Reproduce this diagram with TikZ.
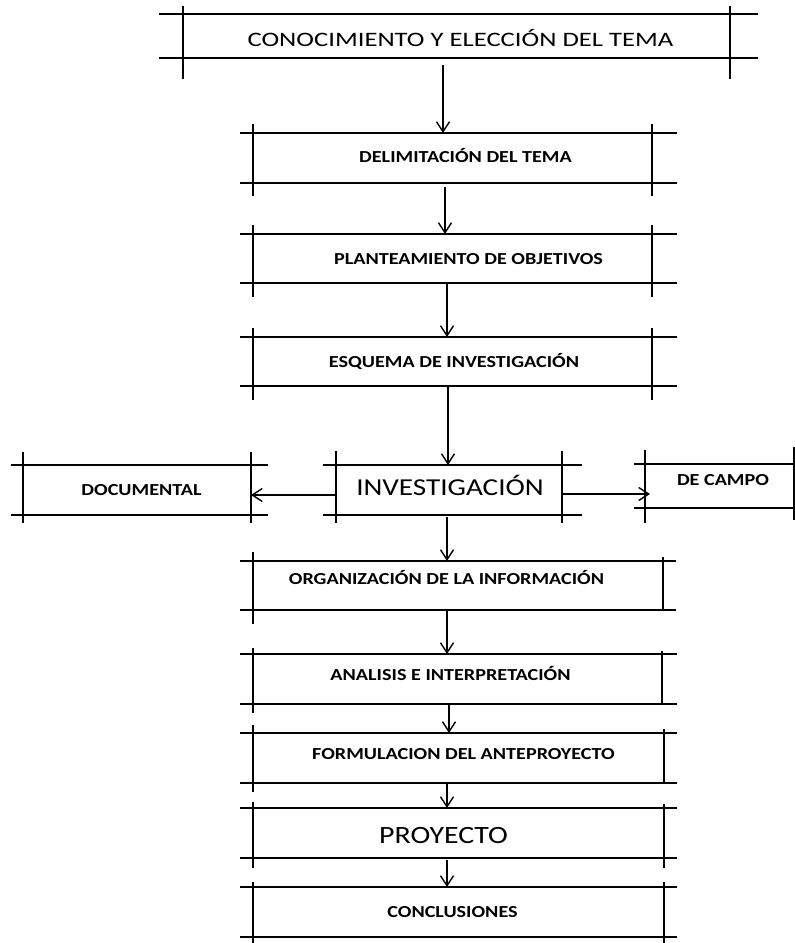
\documentclass[tikz,border=0pt]{standalone}
\usepackage{fontspec}
\setmainfont{Carlito}
\newfontfamily\fsmall{Carlito}[FakeStretch=1.2]
\newfontfamily\fbig{Carlito}[FakeStretch=1.3]
\usetikzlibrary{arrows.meta}
\tikzset{
  boxframe/.style={rectangle, draw=none, inner sep=0pt, outer sep=0pt},
  frameline/.style={line width=1.5pt, black},
  arr/.style={line width=1.4pt, black, -{Straight Barb[length=10pt,width=13pt]}},
  smalltxt/.style={anchor=base, inner sep=0pt, font={\fsmall\bfseries\fontsize{16.8}{18}\selectfont}},
  toptxt/.style={anchor=base, inner sep=0pt, font={\fbig\fontsize{20.5}{22}\selectfont}},
  invtxt/.style={anchor=base, inner sep=0pt, font={\fsmall\fontsize{24.3}{26}\selectfont}},
  proytxt/.style={anchor=base, inner sep=0pt, font={\fsmall\fontsize{24.9}{27}\selectfont}}
}
\newcommand\hashframe[7]{%
  \draw[frameline] ([xshift=-#2]#1.north west) -- ([xshift=#3]#1.north east);
  \draw[frameline] ([xshift=-#2]#1.south west) -- ([xshift=#3]#1.south east);
  \draw[frameline] ([yshift=#4]#1.north west) -- ([yshift=-#5]#1.south west);
  \draw[frameline] ([yshift=#6]#1.north east) -- ([yshift=-#7]#1.south east);
}
\begin{document}
\begin{tikzpicture}[x=1pt,y=-1pt]
\useasboundingbox (0,0) rectangle (795,943);

% box nodes
\node[boxframe, minimum width=547pt, minimum height=44pt] (top) at (456.5,36) {};
\node[boxframe, minimum width=399pt, minimum height=50pt] (delim) at (452.5,158) {};
\node[boxframe, minimum width=399pt, minimum height=49pt] (plant) at (452.5,258.5) {};
\node[boxframe, minimum width=399pt, minimum height=49pt] (esq) at (452.5,361.5) {};
\node[boxframe, minimum width=226pt, minimum height=50pt] (inv) at (449,490) {};
\node[boxframe, minimum width=228pt, minimum height=50pt] (doc) at (137,490) {};
\node[boxframe, minimum width=149pt, minimum height=44pt] (decampo) at (719.5,486) {};
\node[boxframe, minimum width=410pt, minimum height=49pt] (org) at (458,585.5) {};
\node[boxframe, minimum width=409pt, minimum height=50pt] (anal) at (457.5,679) {};
\node[boxframe, minimum width=411pt, minimum height=50pt] (form) at (458.5,758) {};
\node[boxframe, minimum width=411pt, minimum height=50pt] (proy) at (458.5,833) {};
\node[boxframe, minimum width=411pt, minimum height=50pt] (conc) at (458.5,912) {};

% frames
\hashframe{top}{24pt}{28pt}{8pt}{21pt}{8pt}{21pt}
\hashframe{delim}{13pt}{25pt}{9pt}{13pt}{9pt}{13pt}
\hashframe{plant}{13pt}{25pt}{9pt}{14pt}{9pt}{14pt}
\hashframe{esq}{13pt}{25pt}{9pt}{14pt}{9pt}{14pt}
\hashframe{inv}{13pt}{20pt}{14pt}{8pt}{14pt}{8pt}
\hashframe{doc}{12pt}{17pt}{13pt}{8pt}{13pt}{8pt}
\hashframe{decampo}{11pt}{5pt}{14pt}{15pt}{17pt}{12pt}
\hashframe{org}{13pt}{13pt}{9pt}{14pt}{4pt}{0pt}
\hashframe{anal}{13pt}{15pt}{6pt}{9pt}{3pt}{0pt}
\hashframe{form}{13pt}{13pt}{8pt}{9pt}{4pt}{0pt}
\hashframe{proy}{13pt}{13pt}{6pt}{10pt}{4pt}{10pt}
\hashframe{conc}{13pt}{13pt}{5pt}{10pt}{5pt}{10pt}

% texts
\node[toptxt] (ttop) at (460.5,46.5) {CONOCIMIENTO Y ELECCIÓN DEL TEMA};
\node[smalltxt] (tdelim) at (465.5,162) {DELIMITACIÓN DEL TEMA};
\node[smalltxt] (tplant) at (468.5,264) {PLANTEAMIENTO DE OBJETIVOS};
\node[smalltxt] (tesq) at (454,367) {ESQUEMA DE INVESTIGACIÓN};
\node[invtxt] (tinv) at (450,495) {INVESTIGACIÓN};
\node[smalltxt] (tdoc) at (141.5,495) {DOCUMENTAL};
\node[smalltxt] (tdecampo) at (723,485) {DE CAMPO};
\node[smalltxt] (torg) at (446.5,584) {ORGANIZACIÓN DE LA INFORMACIÓN};
\node[smalltxt] (tanal) at (450.5,680) {ANALISIS E INTERPRETACIÓN};
\node[smalltxt] (tform) at (463.5,759) {FORMULACION DEL ANTEPROYECTO};
\node[proytxt] (tproy) at (443.5,843) {PROYECTO};
\node[smalltxt] (tconc) at (452.5,917) {CONCLUSIONES};

% connectors
\draw[arr] ([xshift=-13.5pt,yshift=-7pt]top.south) -- ([xshift=-9.5pt]delim.north);
\draw[arr] ([xshift=-7.5pt,yshift=-4pt]delim.south) -- ([xshift=-7.5pt]plant.north);
\draw[arr] ([xshift=-5.5pt]plant.south) -- ([xshift=-5.5pt]esq.north);
\draw[arr] ([xshift=-4.5pt]esq.south) -- ([xshift=-1pt]inv.north);
\draw[arr] ([yshift=-5pt]inv.west) -- ([yshift=-5pt]doc.east);
\draw[arr] ([yshift=-4pt]inv.east) -- ([xshift=5pt,yshift=-8pt]decampo.west);
\draw[arr] ([xshift=-2pt,yshift=-2pt]inv.south) -- ([xshift=-11pt]org.north);
\draw[arr] ([xshift=-11pt]org.south) -- ([xshift=-10.5pt]anal.north);
\draw[arr] ([xshift=-8.5pt,yshift=-1pt]anal.south) -- ([xshift=-9.5pt]form.north);
\draw[arr] ([xshift=-11.5pt]form.south) -- ([xshift=-11.5pt]proy.north);
\draw[arr] ([xshift=-11.5pt,yshift=-2pt]proy.south) -- ([xshift=-11.5pt]conc.north);
\end{tikzpicture}
\end{document}
